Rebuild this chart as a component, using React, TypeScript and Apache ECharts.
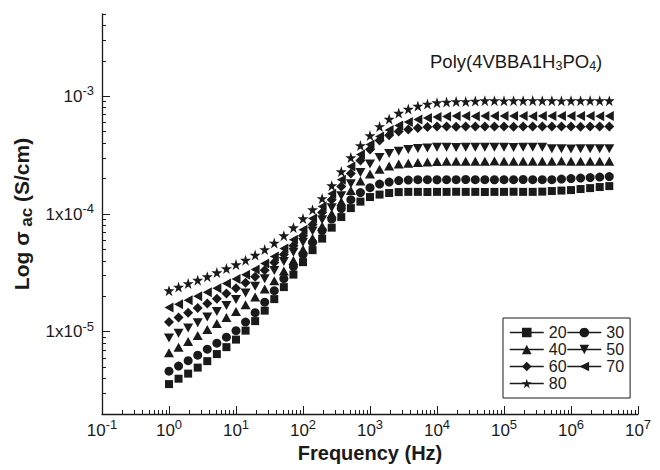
import React, { useEffect, useRef } from 'react';
import * as echarts from 'echarts';

// Frequencies (Hz) of the measured points
const frequencyHz = [
  1, 1.389, 1.931, 2.683, 3.728, 5.179, 7.197,
  10, 13.89, 19.31, 26.83, 37.28, 51.79, 71.97,
  100, 138.9, 193.1, 268.3, 372.8, 517.9, 719.7,
  1000, 1389, 1931, 2683, 3728, 5179, 7197,
  10000, 13895, 19307, 26827, 37276, 51795, 71969,
  100000, 138950, 193070, 268270, 372760, 517950, 719690,
  1000000, 1389500, 1930700, 2682700, 3727600,
];

// log10(sigma_ac) for each temperature series
const logSigma20 = [
  -5.445, -5.399, -5.356, -5.305, -5.25, -5.19, -5.131, -5.067, -4.991, -4.91,
  -4.821, -4.723, -4.621, -4.515, -4.409, -4.307, -4.209, -4.116, -4.026, -3.95,
  -3.895, -3.856, -3.835, -3.822, -3.814, -3.812, -3.812, -3.813, -3.812, -3.812,
  -3.811, -3.812, -3.812, -3.813, -3.812, -3.812, -3.811, -3.812, -3.812, -3.81,
  -3.805, -3.801, -3.797, -3.788, -3.78, -3.771, -3.763,
];
const logSigma30 = [
  -5.335, -5.292, -5.246, -5.199, -5.148, -5.097, -5.046, -4.991, -4.918, -4.838,
  -4.749, -4.651, -4.549, -4.447, -4.345, -4.243, -4.141, -4.043, -3.954, -3.878,
  -3.818, -3.776, -3.746, -3.729, -3.716, -3.712, -3.708, -3.708, -3.709, -3.708,
  -3.708, -3.707, -3.708, -3.708, -3.709, -3.708, -3.708, -3.707, -3.708, -3.708,
  -3.708, -3.703, -3.699, -3.695, -3.691, -3.686, -3.682,
];
const logSigma40 = [
  -5.178, -5.131, -5.084, -5.033, -4.982, -4.931, -4.88, -4.829, -4.77, -4.706,
  -4.638, -4.566, -4.485, -4.396, -4.302, -4.205, -4.103, -3.997, -3.895, -3.801,
  -3.72, -3.661, -3.619, -3.593, -3.576, -3.568, -3.563, -3.559, -3.555, -3.551,
  -3.551, -3.552, -3.551, -3.551, -3.55, -3.551, -3.551, -3.552, -3.551, -3.551,
  -3.551, -3.55, -3.551, -3.551, -3.551, -3.552, -3.551,
];
const logSigma50 = [
  -5.054, -5.012, -4.969, -4.923, -4.876, -4.829, -4.778, -4.727, -4.672, -4.613,
  -4.549, -4.481, -4.404, -4.324, -4.239, -4.145, -4.048, -3.946, -3.844, -3.742,
  -3.648, -3.576, -3.521, -3.487, -3.466, -3.453, -3.444, -3.44, -3.434, -3.434,
  -3.435, -3.434, -3.434, -3.433, -3.434, -3.434, -3.435, -3.434, -3.434, -3.434,
  -3.446, -3.446, -3.447, -3.446, -3.446, -3.445, -3.446,
];
const logSigma60 = [
  -4.918, -4.88, -4.838, -4.799, -4.761, -4.719, -4.676, -4.63, -4.583, -4.532,
  -4.477, -4.413, -4.345, -4.269, -4.184, -4.09, -3.988, -3.878, -3.767, -3.657,
  -3.546, -3.453, -3.376, -3.33, -3.3, -3.283, -3.27, -3.262, -3.257, -3.257,
  -3.258, -3.257, -3.257, -3.256, -3.257, -3.257, -3.258, -3.257, -3.257, -3.257,
  -3.256, -3.257, -3.257, -3.258, -3.257, -3.257, -3.256,
];
const logSigma70 = [
  -4.795, -4.766, -4.732, -4.698, -4.664, -4.63, -4.591, -4.553, -4.515, -4.472,
  -4.421, -4.362, -4.294, -4.218, -4.133, -4.039, -3.937, -3.827, -3.708, -3.597,
  -3.495, -3.41, -3.342, -3.287, -3.249, -3.219, -3.198, -3.185, -3.177, -3.172,
  -3.168, -3.168, -3.169, -3.168, -3.168, -3.167, -3.168, -3.168, -3.169, -3.168,
  -3.168, -3.168, -3.167, -3.168, -3.168, -3.169, -3.168,
];
const logSigma80 = [
  -4.651, -4.621, -4.591, -4.562, -4.532, -4.498, -4.464, -4.43, -4.392, -4.349,
  -4.302, -4.247, -4.184, -4.116, -4.039, -3.963, -3.869, -3.759, -3.64, -3.521,
  -3.419, -3.334, -3.257, -3.194, -3.143, -3.109, -3.083, -3.066, -3.054, -3.049,
  -3.045, -3.045, -3.041, -3.037, -3.037, -3.038, -3.037, -3.037, -3.036, -3.037,
  -3.037, -3.038, -3.037, -3.037, -3.036, -3.037, -3.037,
];

const seriesNames = ['20', '30', '40', '50', '60', '70', '80'];
const seriesValues = [logSigma20, logSigma30, logSigma40, logSigma50, logSigma60, logSigma70, logSigma80];

// Tick labels
const xTickExponents = [-1, 0, 1, 2, 3, 4, 5, 6, 7];
const yTickValues = [-5, -4, -3];
const yTickMantissa = ['1x10', '1x10', '10'];
const yTickExponent = ['-5', '-4', '-3'];

const FONT = '"Liberation Sans", Arial, Helvetica, sans-serif';
const INK = '#1a1a1a';
const STAR = 'path://M50 0 L61.2 34.5 L97.6 34.5 L68.2 55.9 L79.4 90.5 L50 69.1 L20.6 90.5 L31.8 55.9 L2.4 34.5 L38.8 34.5 Z';

const symbols = ['rect', 'circle', 'triangle', 'triangle', 'diamond', 'triangle', STAR];
const rotations = [0, 0, 0, 180, 0, 90, 0];
const sizes: any[] = [8, 9, [10, 9], [10, 9], [10, 10], [10, 9], 11];

const Y_MIN = Math.log10(2e-6);
const Y_MAX = Math.log10(5e-3);

function minorTicks(fromDecade: number, toDecade: number, lo: number, hi: number) {
  const out: number[] = [];
  for (let d = fromDecade; d <= toDecade; d++) {
    for (let k = 2; k <= 9; k++) {
      const v = d + Math.log10(k);
      if (v > lo + 1e-6 && v < hi + 1e-6) out.push(v);
    }
  }
  return out;
}

export default function App() {
  const ref = useRef<HTMLDivElement>(null);
  useEffect(() => {
    const chart = echarts.init(ref.current!, null, { renderer: 'svg' });
    const xMinor = minorTicks(-1, 6, -1, 7);
    const yMinor = minorTicks(-6, -3, Y_MIN, Y_MAX);
    const supRich = {
      b: { fontSize: 17, lineHeight: 24, color: INK, fontFamily: FONT, fontWeight: 'normal' },
      s: { fontSize: 13, lineHeight: 14, verticalAlign: 'top', color: INK, fontFamily: FONT, fontWeight: 'normal' },
    };
    const option: any = {
      animation: false,
      backgroundColor: '#fff',
      textStyle: { fontFamily: FONT, color: INK },
      title: {
        text: '{n|Poly(4VBBA1H}{s|3}{n|PO}{s|4}{n|)}',
        left: 430,
        top: 50,
        padding: 0,
        textStyle: {
          fontWeight: 'normal',
          rich: {
            n: { fontSize: 18.5, lineHeight: 22, color: INK, fontFamily: FONT, fontWeight: 'normal' },
            s: { fontSize: 12.5, lineHeight: 12, verticalAlign: 'bottom', color: INK, fontFamily: FONT, fontWeight: 'normal' },
          },
        },
      },
      grid: { left: 102, right: 22, top: 14, bottom: 56, containLabel: false },
      legend: {
        data: seriesNames,
        left: 503,
        top: 318,
        width: 118,
        orient: 'horizontal',
        itemGap: 0,
        itemWidth: 34,
        itemHeight: 12,
        padding: [6, 6, 6, 6],
        borderColor: INK,
        borderWidth: 1,
        selectedMode: false,
        textStyle: { fontSize: 16, lineHeight: 17, color: INK, fontFamily: FONT },
        lineStyle: { width: 1.5, color: INK, type: 'solid', opacity: 1 },
      },
      xAxis: [
        {
          type: 'value',
          min: -1,
          max: 7,
          interval: 1,
          position: 'bottom',
          axisLine: { show: true, onZero: false, lineStyle: { color: INK, width: 1.3 } },
          axisTick: { show: true, inside: true, length: 8, lineStyle: { color: INK, width: 1 } },
          axisLabel: {
            show: true,
            margin: 4,
            customValues: xTickExponents,
            formatter: (v: number) => `{b|10}{s|${v}}`,
            rich: supRich,
          },
          splitLine: { show: false },
          name: 'Frequency (Hz)',
          nameLocation: 'middle',
          nameGap: 28,
          nameTextStyle: { fontSize: 20, fontWeight: 'bold', color: INK, fontFamily: FONT },
        },
        {
          type: 'value',
          min: -1,
          max: 7,
          position: 'bottom',
          axisLine: { show: false, onZero: false },
          axisLabel: { show: false },
          splitLine: { show: false },
          axisTick: { show: true, inside: true, length: 4, customValues: xMinor, lineStyle: { color: INK, width: 1 } },
        },
      ],
      yAxis: [
        {
          type: 'value',
          min: Y_MIN,
          max: Y_MAX,
          position: 'left',
          axisLine: { show: true, onZero: false, lineStyle: { color: INK, width: 1.3 } },
          axisTick: { show: true, inside: true, length: 8, customValues: yTickValues, lineStyle: { color: INK, width: 1 } },
          axisLabel: {
            show: true,
            margin: 8,
            customValues: yTickValues,
            formatter: (v: number) => {
              const i = yTickValues.indexOf(Math.round(v));
              return `{b|${yTickMantissa[i]}}{s|${yTickExponent[i]}}`;
            },
            rich: supRich,
          },
          splitLine: { show: false },
          name: '{b|Log σ}{s| ac}{b| (S/cm)}',
          nameLocation: 'middle',
          nameGap: 64,
          nameTextStyle: {
            rich: {
              b: { fontSize: 21, fontWeight: 'bold', lineHeight: 26, color: INK, fontFamily: FONT },
              s: { fontSize: 17, fontWeight: 'bold', lineHeight: 17, verticalAlign: 'bottom', color: INK, fontFamily: FONT },
            },
          },
        },
        {
          type: 'value',
          min: Y_MIN,
          max: Y_MAX,
          position: 'left',
          axisLine: { show: false, onZero: false },
          axisLabel: { show: false },
          splitLine: { show: false },
          axisTick: { show: true, inside: true, length: 4, customValues: yMinor, lineStyle: { color: INK, width: 1 } },
        },
      ],
      series: seriesNames.map((name, k) => ({
        name,
        type: 'line',
        xAxisIndex: 0,
        yAxisIndex: 0,
        data: frequencyHz.map((f, i) => [Math.log10(f), seriesValues[k][i]]),
        symbol: symbols[k],
        symbolSize: sizes[k],
        symbolRotate: rotations[k],
        showSymbol: true,
        showAllSymbol: true,
        lineStyle: { width: 0 },
        itemStyle: { color: INK },
        emphasis: { disabled: true },
        silent: true,
        clip: false,
      })),
    };
    chart.setOption(option);
    return () => chart.dispose();
  }, []);
  return (
    <div
      ref={ref}
      style={{ position: 'fixed', left: 0, top: 0, width: 660, height: 470, background: '#fff' }}
    />
  );
}
